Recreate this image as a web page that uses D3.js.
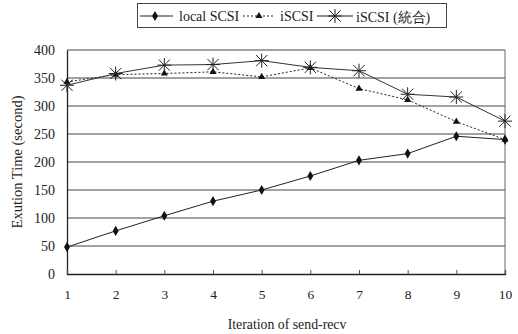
<!DOCTYPE html>
<html>
<head>
<meta charset="utf-8">
<script src="https://cdn.jsdelivr.net/npm/d3@7"></script>
<style>
  body { margin: 0; background: #fff; }
  text { font-family: "Liberation Serif", "Times New Roman", serif; fill: #222; }
</style>
</head>
<body>
<div id="chart"></div>
<script>
var iterations = [1, 2, 3, 4, 5, 6, 7, 8, 9, 10];
var localScsi = [48, 77, 104, 130, 150, 175, 203, 215, 246, 240];
var iscsi = [343, 356, 358, 361, 352, 368, 331, 311, 272, 240];
var iscsiMerged = [337, 358, 373, 374, 381, 369, 363, 321, 316, 273];
var yTicks = [0, 50, 100, 150, 200, 250, 300, 350, 400];

var width = 518, height = 334;
var margin = {left: 67, right: 13, top: 50, bottom: 60};

var svg = d3.select("#chart").append("svg")
  .attr("width", width)
  .attr("height", height);

var x = d3.scaleLinear().domain([1, 10]).range([margin.left, width - margin.right]);
var y = d3.scaleLinear().domain([0, 400]).range([height - margin.bottom, margin.top]);

// gridlines
svg.selectAll("line.grid")
  .data(yTicks.slice(1))
  .enter().append("line")
  .attr("class", "grid")
  .attr("x1", x(1)).attr("x2", x(10))
  .attr("y1", function(d){ return y(d); })
  .attr("y2", function(d){ return y(d); })
  .attr("stroke", "#444")
  .attr("stroke-width", 1);

// right border
svg.append("line")
  .attr("x1", x(10)).attr("x2", x(10))
  .attr("y1", y(400)).attr("y2", y(0))
  .attr("stroke", "#666");

// y axis
var yAxis = svg.append("g")
  .attr("transform", "translate(" + x(1) + ",0)")
  .call(d3.axisLeft(y).tickValues(yTicks).tickSize(0).tickPadding(12));
yAxis.select(".domain").attr("stroke", "#222").attr("stroke-width", 1.3);
yAxis.selectAll("text").attr("font-size", 14).attr("fill", "#222")
  .style("font-family", "'Liberation Serif', serif");

// x axis
var xAxis = svg.append("g")
  .attr("transform", "translate(0," + y(0) + ")")
  .call(d3.axisBottom(x).tickValues(iterations).tickSize(-4).tickPadding(15).tickFormat(d3.format("d")));
xAxis.select(".domain").attr("stroke", "#222").attr("stroke-width", 1.3);
xAxis.selectAll(".tick line").attr("stroke", "#555");
xAxis.selectAll("text").attr("font-size", 13.5).attr("fill", "#222")
  .style("font-family", "'Liberation Serif', serif");

// titles
svg.append("text")
  .attr("x", 287)
  .attr("y", 329)
  .attr("text-anchor", "middle")
  .attr("font-size", 13.8)
  .text("Iteration of send-recv");

svg.append("text")
  .attr("transform", "translate(22," + ((y(0) + y(400)) / 2) + ") rotate(-90)")
  .attr("text-anchor", "middle")
  .attr("font-size", 14.5)
  .text("Exution Time (second)");

var line = d3.line()
  .x(function(d, i){ return x(iterations[i]); })
  .y(function(d){ return y(d); });

var diamond = d3.symbol().type(d3.symbolDiamond).size(30);
var triangle = d3.symbol().type(d3.symbolTriangle).size(22);

function star(g, cx, cy, r) {
  var p = "M" + (cx - r) + "," + cy + "H" + (cx + r) +
    "M" + cx + "," + (cy - r) + "V" + (cy + r) +
    "M" + (cx - r * 0.8) + "," + (cy - r * 0.8) + "L" + (cx + r * 0.8) + "," + (cy + r * 0.8) +
    "M" + (cx - r * 0.8) + "," + (cy + r * 0.8) + "L" + (cx + r * 0.8) + "," + (cy - r * 0.8);
  g.append("path").attr("d", p).attr("stroke", "#222").attr("stroke-width", 1).attr("fill", "none");
}

// local SCSI
svg.append("path").datum(localScsi)
  .attr("d", line).attr("fill", "none").attr("stroke", "#222").attr("stroke-width", 1);
svg.selectAll("path.dia").data(localScsi).enter().append("path")
  .attr("class", "dia")
  .attr("d", diamond)
  .attr("transform", function(d, i){ return "translate(" + x(iterations[i]) + "," + y(d) + ")"; })
  .attr("fill", "#111");

// iSCSI
svg.append("path").datum(iscsi)
  .attr("d", line).attr("fill", "none").attr("stroke", "#222").attr("stroke-width", 1)
  .attr("stroke-dasharray", "2,2");
svg.selectAll("path.tri").data(iscsi).enter().append("path")
  .attr("class", "tri")
  .attr("d", triangle)
  .attr("transform", function(d, i){ return "translate(" + x(iterations[i]) + "," + y(d) + ")"; })
  .attr("fill", "#111");

// iSCSI (merged)
svg.append("path").datum(iscsiMerged)
  .attr("d", line).attr("fill", "none").attr("stroke", "#333").attr("stroke-width", 1);
iscsiMerged.forEach(function(d, i){ star(svg, x(iterations[i]), y(d), 7); });

// legend
var lg = svg.append("g");
lg.append("rect")
  .attr("x", 137.5).attr("y", 3.5).attr("width", 309).attr("height", 24)
  .attr("fill", "#fff").attr("stroke", "#444").attr("stroke-width", 1);

lg.append("line").attr("x1", 140).attr("x2", 173).attr("y1", 16).attr("y2", 16).attr("stroke", "#222");
lg.append("path").attr("d", diamond).attr("transform", "translate(155,16)").attr("fill", "#111");
lg.append("text").attr("x", 179).attr("y", 21).attr("font-size", 14).text("local SCSI");

lg.append("line").attr("x1", 243).attr("x2", 274).attr("y1", 16).attr("y2", 16)
  .attr("stroke", "#222").attr("stroke-dasharray", "2,2");
lg.append("path").attr("d", triangle).attr("transform", "translate(259,16)").attr("fill", "#111");
lg.append("text").attr("x", 280).attr("y", 21).attr("font-size", 14).text("iSCSI");

lg.append("line").attr("x1", 317).attr("x2", 353).attr("y1", 16).attr("y2", 16).attr("stroke", "#222");
star(lg, 335, 16, 7);
lg.append("text").attr("x", 356).attr("y", 22).attr("font-size", 14).text("iSCSI (統合)");
</script>
</body>
</html>
